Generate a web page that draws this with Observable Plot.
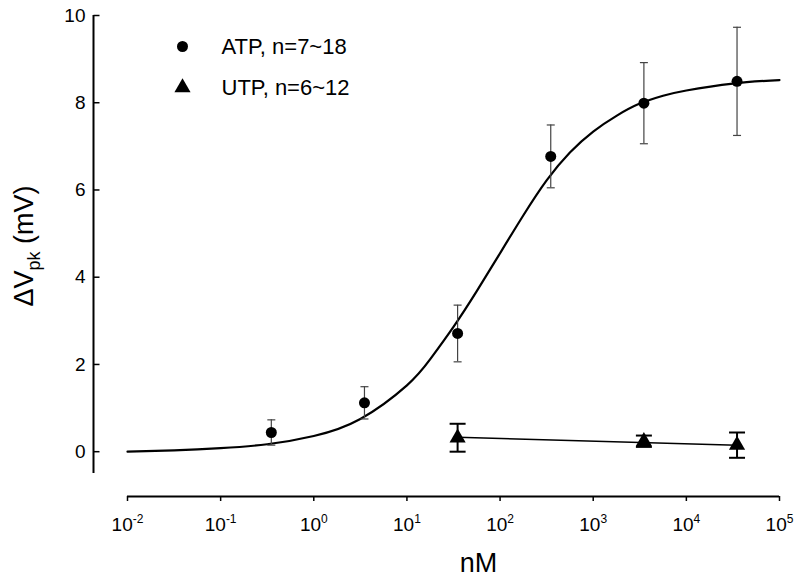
<!DOCTYPE html>
<html>
<head>
<meta charset="utf-8">
<script src="https://cdn.jsdelivr.net/npm/d3@7"></script>
<script src="https://cdn.jsdelivr.net/npm/@observablehq/plot@0.6"></script>
<style>
  body { margin: 0; background: #fff; }
  svg { font-family: "Liberation Sans", Arial, sans-serif; }
</style>
</head>
<body>
<div id="chart"></div>
<script>
// ---- data ----
const atpConc = [0.35, 3.5, 35, 350, 3500, 35000];
const atpMean = [0.44, 1.12, 2.71, 6.77, 7.99, 8.49];
const atpSem  = [0.29, 0.37, 0.65, 0.72, 0.93, 1.24];

const utpConc = [35, 3500, 35000];
const utpMean = [0.32, 0.24, 0.15];
const utpSem  = [0.32, 0.13, 0.29];

// fitted ATP curve
const atpFitConc = [0.01, 0.0316, 0.1, 0.316, 1, 3.16, 10, 17.8, 31.6, 56.2, 100, 178, 316, 562, 1000, 1778, 3162, 5623, 10000, 31623, 100000];
const atpFitY    = [0.0, 0.03, 0.08, 0.17, 0.36, 0.75, 1.52, 2.12, 2.86, 3.68, 4.55, 5.42, 6.22, 6.86, 7.34, 7.70, 7.98, 8.16, 8.28, 8.44, 8.52];

// fitted UTP line
const utpFitConc = [35, 35000];
const utpFitY    = [0.33, 0.15];

const xTicks = [1e-2, 1e-1, 1, 10, 100, 1000, 10000, 100000];
const yTicks = [0, 2, 4, 6, 8, 10];
const xDomain = [0.01, 100000];
const yDomain = [-0.5, 10];
const legendLabels = ["ATP, n=7~18", "UTP, n=6~12"];
const xLabel = "nM";
const yLabelParts = ["\u0394V", "pk", " (mV)"];

// ---- tables ----
const atp = atpConc.map((x, i) => ({x, y: atpMean[i], lo: atpMean[i] - atpSem[i], hi: atpMean[i] + atpSem[i]}));
const utp = utpConc.map((x, i) => ({x, y: utpMean[i], lo: utpMean[i] - utpSem[i], hi: utpMean[i] + utpSem[i]}));
const atpFit = atpFitConc.map((x, i) => ({x, y: atpFitY[i]}));
const utpFit = utpFitConc.map((x, i) => ({x, y: utpFitY[i]}));

const cap = w => ({draw(ctx) { ctx.moveTo(-w / 2, 0); ctx.lineTo(w / 2, 0); }});
const tickRight = l => ({draw(ctx) { ctx.moveTo(0, 0); ctx.lineTo(l, 0); }});

const chart = Plot.plot({
  width: 800,
  height: 581,
  marginLeft: 93,
  marginRight: 21,
  marginTop: 15,
  marginBottom: 85,
  style: {background: "white", color: "black", fontFamily: "Liberation Sans, Arial, sans-serif"},
  x: {type: "log", domain: xDomain, range: [127, 779]},
  y: {domain: yDomain, range: [473, 15]},
  marks: [
    // axis lines
    Plot.ruleX([xDomain[0]], {y1: yDomain[0], y2: yDomain[1], dx: -34, stroke: "black", strokeWidth: 2}),
    Plot.ruleY([yDomain[0]], {x1: xDomain[0], x2: xDomain[1], dy: 23, stroke: "black", strokeWidth: 2}),
    // inward y ticks
    Plot.dot(yTicks, {x: () => xDomain[0], y: d => d, dx: -34, symbol: tickRight(6), stroke: "black", fill: "none", strokeWidth: 1.5}),
    Plot.axisY({ticks: yTicks, tickSize: 0, tickPadding: 8, fontSize: 19, tickFormat: d => String(d), label: null}),
    Plot.axisX({ticks: xTicks, tickSize: 5, tickPadding: 16, fontSize: 19, strokeWidth: 1.5, tickFormat: d => String(Math.round(Math.log10(d))), label: null}),

    // ATP fit curve
    Plot.line(atpFit, {x: "x", y: "y", stroke: "black", strokeWidth: 2.2, curve: "natural"}),
    // UTP fit line
    Plot.line(utpFit, {x: "x", y: "y", stroke: "black", strokeWidth: 1.5}),

    // ATP error bars
    Plot.ruleX(atp, {x: "x", y1: "lo", y2: "hi", stroke: "#444", strokeWidth: 1.2}),
    Plot.dot(atp, {x: "x", y: "hi", symbol: cap(8), stroke: "#444", fill: "none", strokeWidth: 1.2}),
    Plot.dot(atp, {x: "x", y: "lo", symbol: cap(8), stroke: "#444", fill: "none", strokeWidth: 1.2}),
    // UTP error bars
    Plot.ruleX(utp, {x: "x", y1: "lo", y2: "hi", stroke: "black", strokeWidth: 2}),
    Plot.dot(utp, {x: "x", y: "hi", symbol: cap(16), stroke: "black", fill: "none", strokeWidth: 2}),
    Plot.dot(utp, {x: "x", y: "lo", symbol: cap(16), stroke: "black", fill: "none", strokeWidth: 2}),

    // points
    Plot.dot(atp, {x: "x", y: "y", r: 5.5, fill: "black", stroke: "none"}),
    Plot.dot(utp, {x: "x", y: "y", r: 6, symbol: "triangle", fill: "black", stroke: "none"}),

    // legend
    Plot.dot([legendLabels[0]], {frameAnchor: "top-left", dx: 89, dy: 31, r: 5.5, fill: "black", stroke: "none"}),
    Plot.dot([legendLabels[1]], {frameAnchor: "top-left", dx: 89, dy: 72, r: 6, symbol: "triangle", fill: "black", stroke: "none"}),
    Plot.text([legendLabels[0]], {frameAnchor: "top-left", dx: 128, dy: 31, text: d => d, textAnchor: "start", lineAnchor: "middle", fontSize: 22}),
    Plot.text([legendLabels[1]], {frameAnchor: "top-left", dx: 128, dy: 72, text: d => d, textAnchor: "start", lineAnchor: "middle", fontSize: 22}),

    // axis titles
    Plot.text([xLabel], {frameAnchor: "bottom", dx: 42, dy: 67, text: d => d, lineAnchor: "middle", fontSize: 27}),
    Plot.text([yLabelParts.join("")], {frameAnchor: "left", dx: -69, dy: -10, rotate: -90, text: d => d, lineAnchor: "middle", textAnchor: "middle", fontSize: 27})
  ]
});

const NS = "http://www.w3.org/2000/svg";
// superscript exponents on x tick labels
chart.querySelectorAll('[aria-label="x-axis tick label"] text').forEach(t => {
  const e = t.textContent;
  t.textContent = "10";
  const ts = document.createElementNS(NS, "tspan");
  ts.setAttribute("dy", "-8");
  ts.setAttribute("font-size", "12");
  ts.textContent = e;
  t.appendChild(ts);
});
// subscript in y label
chart.querySelectorAll("text").forEach(t => {
  if (t.textContent !== yLabelParts.join("")) return;
  t.textContent = yLabelParts[0];
  const sub = document.createElementNS(NS, "tspan");
  sub.setAttribute("dy", "7");
  sub.setAttribute("font-size", "18");
  sub.textContent = yLabelParts[1];
  const rest = document.createElementNS(NS, "tspan");
  rest.setAttribute("dy", "-7");
  rest.textContent = yLabelParts[2];
  t.appendChild(sub);
  t.appendChild(rest);
});

document.getElementById("chart").appendChild(chart);
</script>
</body>
</html>
